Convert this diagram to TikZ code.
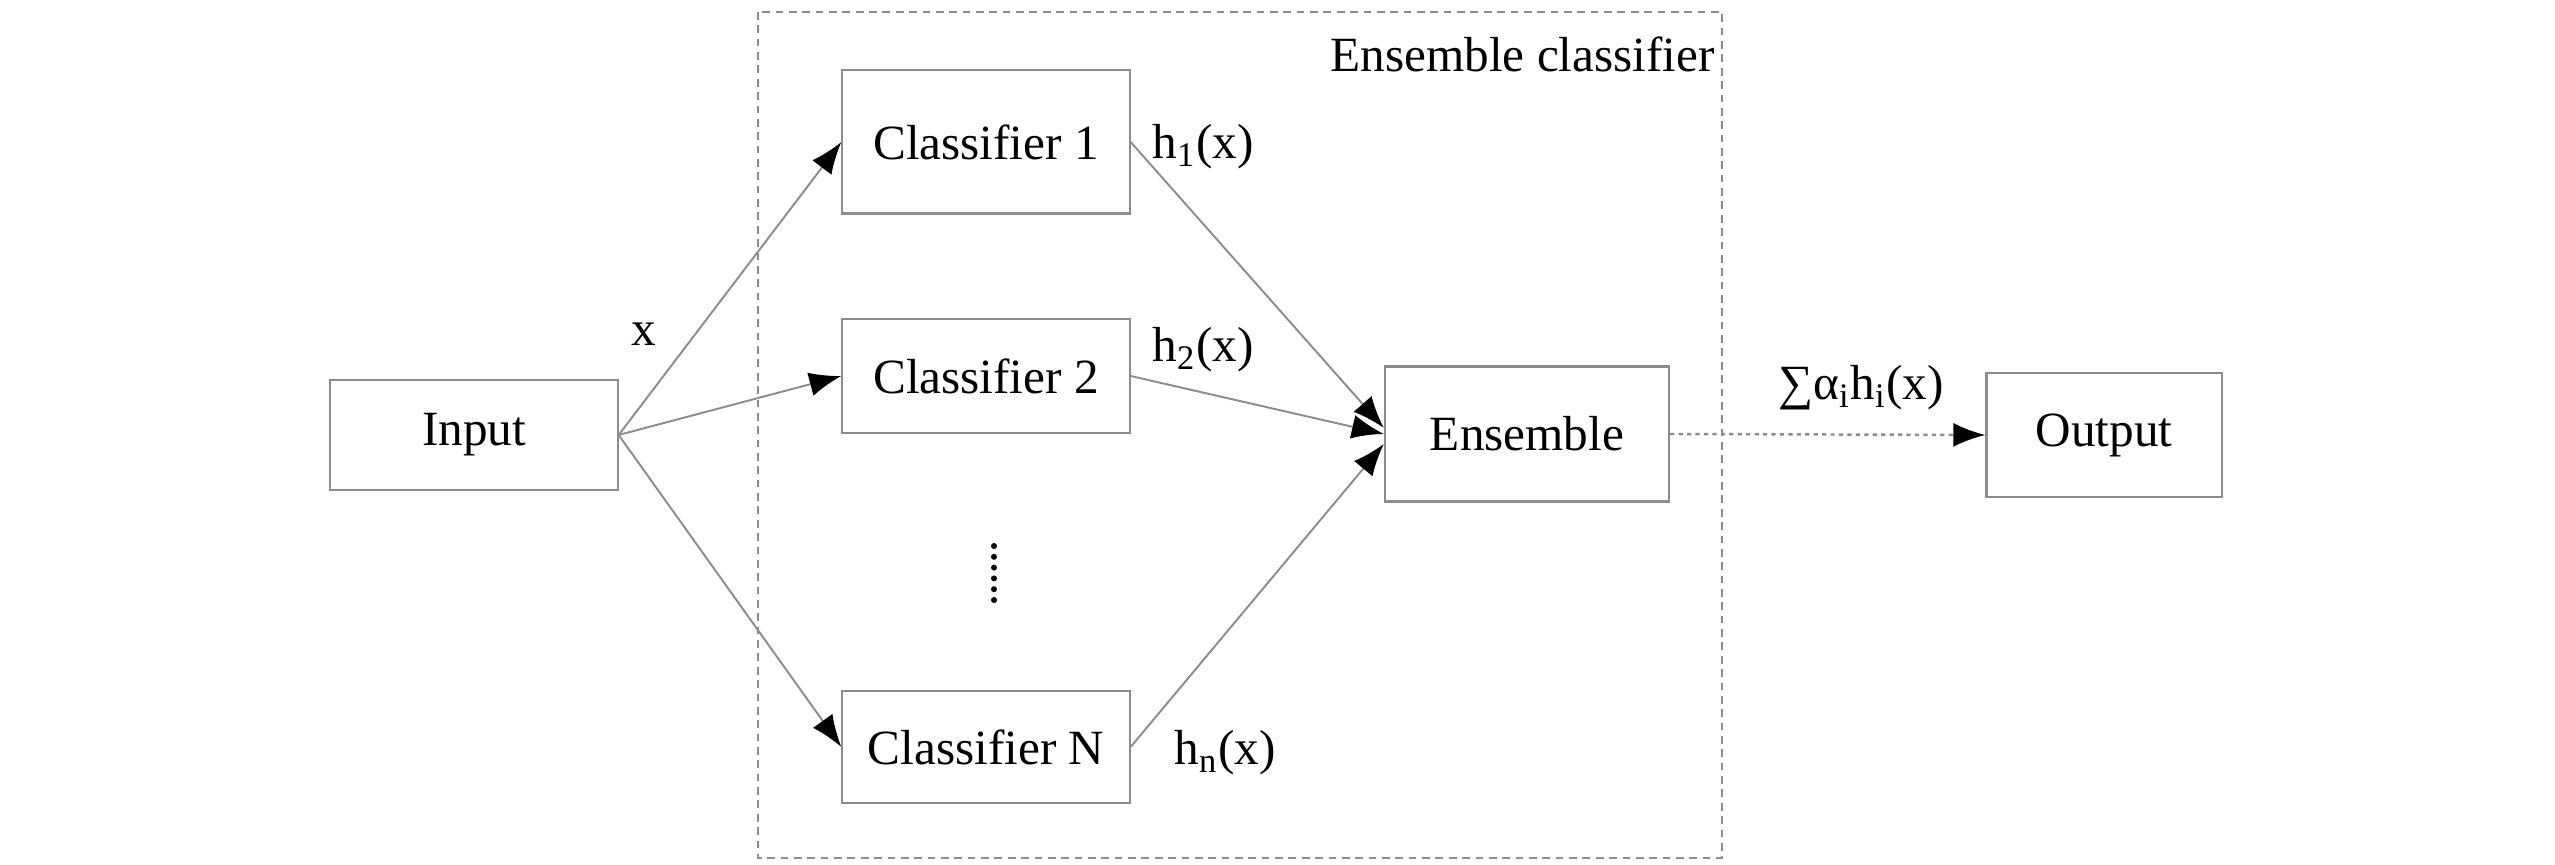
\documentclass[tikz,border=0pt]{standalone}
\usepackage{fontspec}
\setmainfont{Liberation Serif}
\usepackage{tikz}
\usetikzlibrary{arrows.meta,positioning}
\definecolor{linegray}{gray}{0.55}
\tikzset{
  box/.style={
    shape = rectangle,
    draw = linegray,
    line width = 0.6pt,
    minimum width = 2.87cm,
    inner sep = 0pt,
    font = \fontsize{14}{16}\selectfont
  },
  conn/.style={
    draw = linegray,
    line width = 0.55pt,
    -{Latex[length=3.2mm,width=2.4mm,fill=black,color=black]}
  },
  lbl/.style={
    font = \fontsize{14}{16}\selectfont,
    inner sep = 1pt
  },
}
\begin{document}
\begin{tikzpicture}[x=0.01cm,y=-0.01cm]
    \useasboundingbox (0,0) rectangle (2555,865);
    % ensemble frame
    \draw[linegray, dash pattern=on 2.2pt off 1.6pt, line width=0.55pt] (758,12) rectangle (1722,858);
    \node[lbl, anchor=east] (title) at (1719,54) {Ensemble classifier};

    \node[box, minimum height=1.1cm] (input) at (474,435) {Input};
    \node[box, minimum height=1.43cm] (clsA) at (986,142) {Classifier 1};
    \node[box, minimum height=1.14cm] (clsB) at (986,376) {Classifier 2};
    \node[box, minimum height=1.12cm] (clsN) at (986,747) {Classifier N};
    \node[box, minimum width=2.84cm, minimum height=1.35cm] (ens) at (1527,434) {Ensemble};
    \node[box, minimum width=2.35cm, minimum height=1.24cm] (out) at (2104,435) {Output};

    \draw[conn] (input.east) -- (clsA.west);
    \draw[conn] (input.east) -- (clsB.west);
    \draw[conn] (input.east) -- (clsN.west);
    \draw[conn] (clsA.east) -- ([yshift=0.06cm]ens.west);
    \draw[conn] (clsB.east) -- (ens.west);
    \draw[conn] (clsN.east) -- ([yshift=-0.1cm]ens.west);
    \draw[conn, dash pattern=on 1.2pt off 1.2pt, line width=0.7pt] (ens.east) -- (out.west);

    \node[lbl] (xin) at (644,334) {x};
    \node[lbl] (hA) at (1203,147) {h\textsubscript{1}(x)};
    \node[lbl] (hB) at (1203,350) {h\textsubscript{2}(x)};
    \node[lbl] (hN) at (1225,753) {h\textsubscript{n}(x)};
    \node[lbl] (sum) at (1861,388) {∑α\textsubscript{i}h\textsubscript{i}(x)};

    % vertical dots
    \coordinate (dots) at (994,546);
    \foreach \k in {0,...,5}
        \fill ([yshift=-\k*0.108cm]dots) circle (0.03cm);
\end{tikzpicture}
\end{document}
